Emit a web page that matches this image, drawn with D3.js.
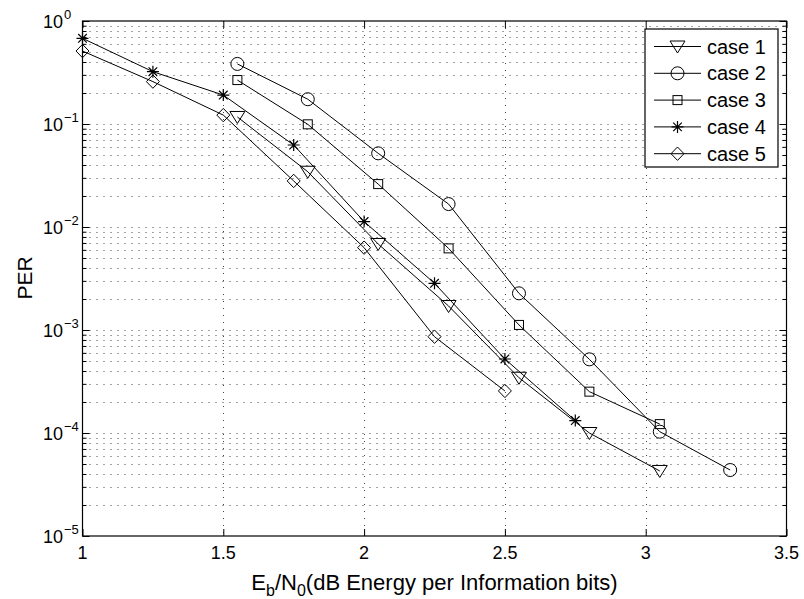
<!DOCTYPE html>
<html>
<head>
<meta charset="utf-8">
<script src="https://cdn.jsdelivr.net/npm/d3@7"></script>
<style>
  body { margin: 0; background: #fff; }
  svg { display: block; font-family: "Liberation Sans", Arial, sans-serif; }
</style>
</head>
<body>
<div id="chart"></div>
<script>
// data
const x1 = [1.55, 1.8, 2.05, 2.3, 2.55, 2.8, 3.05];
const case1 = [0.117, 0.0344, 0.00684, 0.00171, 3.44e-4, 1.0e-4, 4.28e-5];
const x2 = [1.55, 1.8, 2.05, 2.3, 2.55, 2.8, 3.05, 3.3];
const case2 = [0.383, 0.174, 0.0519, 0.0167, 0.00227, 5.19e-4, 1.03e-4, 4.37e-5];
const x3 = [1.55, 1.8, 2.05, 2.3, 2.55, 2.8, 3.05];
const case3 = [0.267, 0.0993, 0.0261, 0.0062, 0.00112, 2.52e-4, 1.22e-4];
const x4 = [1, 1.25, 1.5, 1.75, 2, 2.25, 2.5, 2.75];
const case4 = [0.679, 0.322, 0.191, 0.0625, 0.0113, 0.00284, 5.23e-4, 1.32e-4];
const x5 = [1, 1.25, 1.5, 1.75, 2, 2.25, 2.5];
const case5 = [0.511, 0.258, 0.122, 0.028, 0.0063, 8.61e-4, 2.56e-4];

const seriesNames = ['case 1', 'case 2', 'case 3', 'case 4', 'case 5'];
const seriesMarkers = ['triangle', 'circle', 'square', 'star', 'diamond'];
const xTicks = [1, 1.5, 2, 2.5, 3, 3.5];
const yTickExps = [0, -1, -2, -3, -4, -5];
const xLabel = ['E', 'b', '/N', '0', '(dB Energy per Information bits)'];
const yLabel = 'PER';

// dimensions
const w = 804;
const h = 599;
const pLeft = 82.5, pRight = 786.5, pTop = 21, pBottom = 536;

const x_scale = d3.scaleLinear().domain([1, 3.5]).range([pLeft, pRight]);
const y_scale = d3.scaleLog().domain([1e-5, 1]).range([pBottom, pTop]);

const svg = d3.select('#chart').append('svg')
    .attr('width', w)
    .attr('height', h);

// minor log values
const minor = [];
for (let e = -5; e < 0; e++) {
    for (let m = 2; m <= 9; m++) minor.push(m * Math.pow(10, e));
}
const major = yTickExps.map(e => Math.pow(10, e));

// grid
const grid = svg.append('g')
    .attr('stroke', '#444')
    .attr('stroke-width', 1)
    .attr('stroke-dasharray', '1,6');

grid.selectAll('line.hy')
    .data(minor.concat(major.slice(1, -1)))
    .enter().append('line')
    .attr('x1', pLeft).attr('x2', pRight)
    .attr('y1', d => Math.round(y_scale(d)) + 0.5)
    .attr('y2', d => Math.round(y_scale(d)) + 0.5);

grid.selectAll('line.vx')
    .data(xTicks.slice(1, -1))
    .enter().append('line')
    .attr('y1', pTop).attr('y2', pBottom)
    .attr('x1', d => Math.round(x_scale(d)) + 0.5)
    .attr('x2', d => Math.round(x_scale(d)) + 0.5);

// axes with inward ticks
function cleanAxis(g) {
    g.select('.domain').remove();
    g.selectAll('.tick line').attr('stroke', '#000');
    g.selectAll('.tick text').remove();
}

svg.append('g').attr('transform', `translate(0,${pBottom})`)
    .call(d3.axisBottom(x_scale).tickValues(xTicks).tickSize(-7)).call(cleanAxis);
svg.append('g').attr('transform', `translate(0,${pTop})`)
    .call(d3.axisTop(x_scale).tickValues(xTicks).tickSize(-7)).call(cleanAxis);
svg.append('g').attr('transform', `translate(${pLeft},0)`)
    .call(d3.axisLeft(y_scale).tickValues(major).tickSize(-7)).call(cleanAxis);
svg.append('g').attr('transform', `translate(${pRight},0)`)
    .call(d3.axisRight(y_scale).tickValues(major).tickSize(-7)).call(cleanAxis);
svg.append('g').attr('transform', `translate(${pLeft},0)`)
    .call(d3.axisLeft(y_scale).tickValues(minor).tickSize(-4)).call(cleanAxis);
svg.append('g').attr('transform', `translate(${pRight},0)`)
    .call(d3.axisRight(y_scale).tickValues(minor).tickSize(-4)).call(cleanAxis);

// box
svg.append('rect')
    .attr('x', pLeft).attr('y', pTop)
    .attr('width', pRight - pLeft).attr('height', pBottom - pTop)
    .attr('fill', 'none').attr('stroke', '#000').attr('stroke-width', 1.2);

// tick labels
svg.append('g').selectAll('text')
    .data(xTicks)
    .enter().append('text')
    .attr('x', d => x_scale(d))
    .attr('y', 559)
    .attr('text-anchor', 'middle')
    .attr('font-size', 18)
    .text(d => d);

const yLab = svg.append('g').selectAll('text')
    .data(yTickExps)
    .enter().append('text')
    .attr('x', 43)
    .attr('y', d => y_scale(Math.pow(10, d)) + 6.5)
    .attr('font-size', 18);
yLab.append('tspan').text('10');
yLab.append('tspan')
    .attr('dy', -9)
    .attr('dx', 1)
    .attr('font-size', 13)
    .text(d => d === 0 ? '0' : '\u2212' + Math.abs(d));

// axis titles
const xt = svg.append('text')
    .attr('x', (pLeft + pRight) / 2)
    .attr('y', 590)
    .attr('text-anchor', 'middle')
    .attr('font-size', 22);
xt.append('tspan').text(xLabel[0]);
xt.append('tspan').attr('dy', 6).attr('font-size', 16).text(xLabel[1]);
xt.append('tspan').attr('dy', -6).text(xLabel[2]);
xt.append('tspan').attr('dy', 6).attr('font-size', 16).text(xLabel[3]);
xt.append('tspan').attr('dy', -6).text(xLabel[4]);

svg.append('text')
    .attr('transform', 'translate(31.5,278) rotate(-90)')
    .attr('text-anchor', 'middle')
    .attr('font-size', 21)
    .text(yLabel);

// markers
function drawMarker(g, type, cx, cy) {
    const m = g.append('g').attr('transform', `translate(${cx},${cy})`)
        .attr('fill', 'none').attr('stroke', '#000').attr('stroke-width', 1);
    if (type === 'triangle') {
        m.append('path').attr('d', 'M-7.5,-5.5L7.5,-5.5L0,6.5Z');
    } else if (type === 'circle') {
        m.append('circle').attr('r', 6.5);
    } else if (type === 'square') {
        m.append('rect').attr('x', -4.5).attr('y', -4.5).attr('width', 9).attr('height', 9);
    } else if (type === 'star') {
        m.append('path').attr('d', 'M-6,0L6,0M0,-6L0,6M-4.3,-4.3L4.3,4.3M-4.3,4.3L4.3,-4.3')
            .attr('stroke-width', 1.2);
    } else if (type === 'diamond') {
        m.append('path').attr('d', 'M0,-6.7L6.5,0L0,6.7L-6.5,0Z');
    }
}

const allX = [x1, x2, x3, x4, x5];
const allY = [case1, case2, case3, case4, case5];
const line = d3.line().x(d => x_scale(d[0])).y(d => y_scale(d[1]));

allX.forEach((xs, i) => {
    const pts = xs.map((v, j) => [v, allY[i][j]]);
    const g = svg.append('g');
    g.append('path')
        .datum(pts)
        .attr('d', line)
        .attr('fill', 'none')
        .attr('stroke', '#000')
        .attr('stroke-width', 1);
    pts.forEach(p => drawMarker(g, seriesMarkers[i], x_scale(p[0]), y_scale(p[1])));
});

// legend
const legend = svg.append('g');
legend.append('rect')
    .attr('x', 645).attr('y', 29)
    .attr('width', 133).attr('height', 138)
    .attr('fill', '#fff').attr('stroke', '#000').attr('stroke-width', 1.2);

seriesNames.forEach((name, i) => {
    const ly = 46.5 + i * 26.8;
    legend.append('line')
        .attr('x1', 654).attr('x2', 701)
        .attr('y1', ly).attr('y2', ly)
        .attr('stroke', '#000').attr('stroke-width', 1);
    drawMarker(legend, seriesMarkers[i], 677.5, ly);
    legend.append('text')
        .attr('x', 707)
        .attr('y', ly + 7)
        .attr('font-size', 20)
        .text(name);
});
</script>
</body>
</html>
